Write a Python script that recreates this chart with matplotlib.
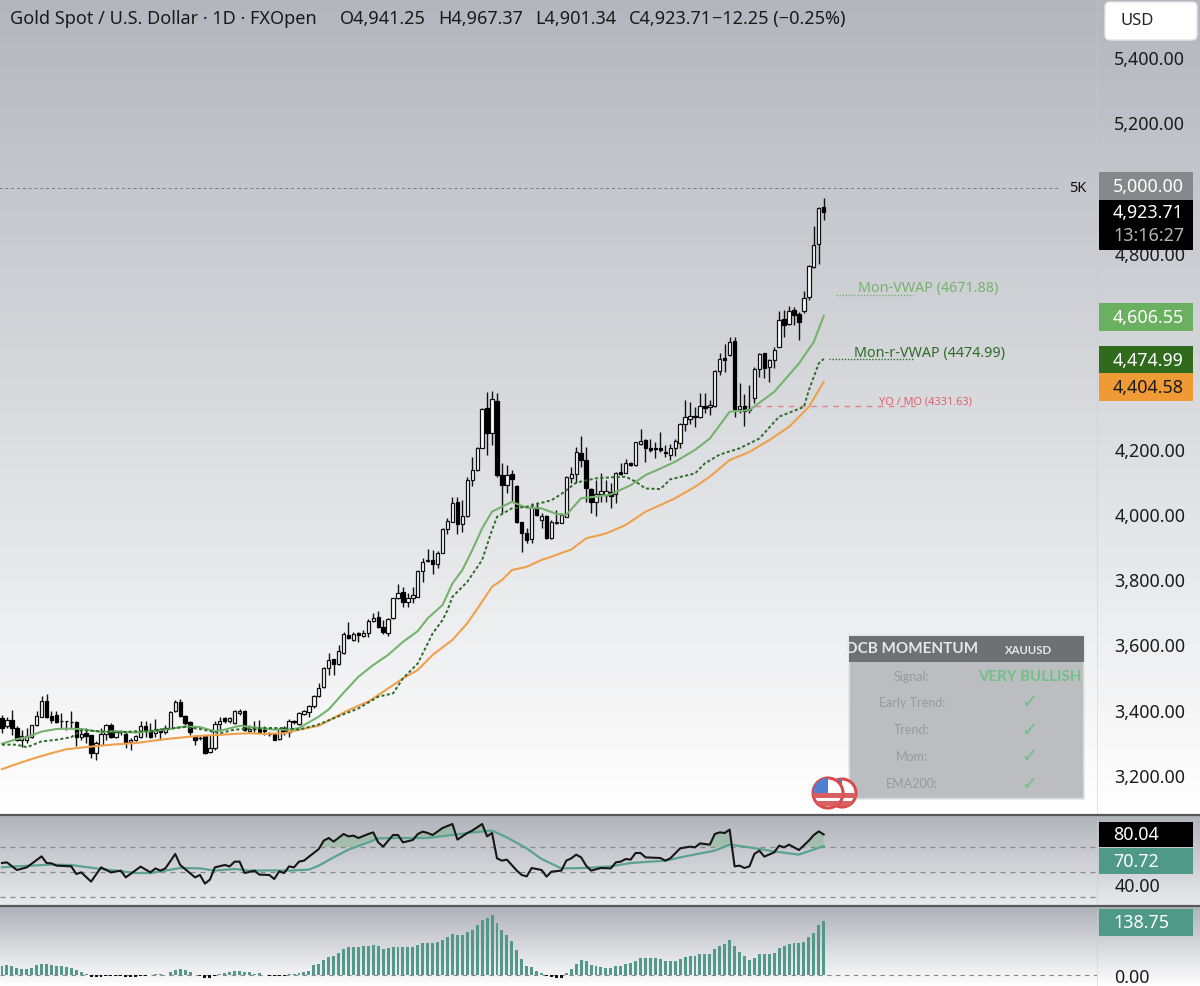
import numpy as np
import matplotlib
matplotlib.use("Agg")
from matplotlib import pyplot as plt
from matplotlib.patches import Rectangle, Circle, FancyBboxPatch

plt.rcParams['font.family'] = ['Noto Sans', 'DejaVu Sans']

# daily candles
opens = [3374,3349,3369,3344,3308,3308,3316,3352,3379,3428,
         3381,3385,3365,3366,3363,3362,3316,3328,3322,3267,
         3293,3326,3352,3318,3332,3326,3301,3308,3318,3351,
         3337,3330,3342,3331,3344,3395,3425,3381,3361,3315,
         3312,3320,3270,3282,3357,3374,3364,3359,3390,3395,
         3336,3342,3344,3339,3330,3326,3310,3344,3333,3366,
         3356,3388,3392,3410,3443,3471,3527,3554,3540,3573,
         3629,3614,3634,3626,3634,3673,3683,3652,3634,3680,
         3741,3760,3729,3741,3746,3826,3855,3859,3846,3881,
         3954,3976,4035,3969,3993,4104,4134,4203,4325,4247,
         4347,4119,4090,4121,4085,3976,3943,3922,4022,3981,
         3993,3925,3971,3973,3991,4109,4121,4188,4165,4076,
         4037,4061,4058,4068,4061,4127,4126,4157,4150,4214,
         4226,4201,4201,4201,4191,4180,4201,4216,4275,4292,
         4300,4296,4332,4328,4331,4439,4479,4487,4529,4323,
         4330,4318,4354,4443,4492,4451,4473,4512,4597,4581,
         4624,4612,4622,4665,4757,4826,4941.25]
closes = [3344,3369,3344,3306,3320,3320,3352,3381,3428,3377,
          3369,3361,3367,3365,3361,3316,3326,3320,3267,3298,
          3326,3352,3318,3331,3334,3298,3308,3320,3351,3337,
          3316,3342,3331,3344,3393,3425,3381,3359,3331,3308,
          3314,3267,3282,3357,3366,3364,3374,3395,3397,3337,
          3342,3340,3331,3336,3326,3308,3342,3333,3366,3363,
          3390,3395,3412,3443,3466,3527,3552,3540,3581,3632,
          3619,3632,3628,3634,3673,3682,3652,3637,3679,3741,
          3757,3729,3741,3751,3826,3852,3859,3848,3879,3954,
          3978,4032,3969,3994,4104,4136,4201,4320,4247,4351,
          4119,4088,4119,4106,3976,3943,3920,4022,3996,3994,
          3925,3976,3976,3996,4112,4121,4191,4165,4078,4037,
          4061,4071,4071,4056,4124,4122,4157,4150,4219,4224,
          4201,4196,4198,4196,4186,4201,4224,4275,4296,4300,
          4296,4330,4324,4334,4439,4476,4471,4527,4323,4330,
          4316,4323,4444,4489,4446,4471,4502,4594,4579,4621,
          4609,4589,4663,4759,4824,4936,4923.71]
highs = [3385,3379,3398,3349,3339,3344,3354,3395,3443,3447,
         3395,3395,3390,3367,3395,3364,3344,3344,3323,3303,
         3344,3357,3359,3339,3339,3333,3313,3323,3364,3367,
         3359,3371,3344,3354,3397,3430,3433,3385,3364,3323,
         3320,3323,3323,3364,3379,3379,3379,3400,3402,3400,
         3354,3366,3369,3349,3333,3330,3344,3349,3371,3369,
         3392,3398,3415,3446,3481,3532,3573,3554,3598,3639,
         3670,3639,3639,3644,3677,3695,3703,3675,3681,3743,
         3785,3775,3757,3775,3828,3864,3891,3889,3887,3956,
         3986,4053,4053,4044,4112,4173,4206,4326,4374,4377,
         4369,4155,4150,4134,4088,3976,3956,4032,4037,4002,
         3996,3981,4012,4004,4115,4145,4206,4239,4206,4078,
         4104,4124,4104,4094,4129,4155,4167,4160,4221,4260,
         4231,4231,4221,4252,4211,4214,4231,4280,4349,4344,
         4328,4369,4369,4349,4441,4492,4520,4543,4543,4400,
         4367,4395,4451,4492,4494,4476,4512,4622,4624,4637,
         4635,4619,4683,4762,4882,4940,4967.37]
lows = [3328,3344,3323,3303,3285,3298,3313,3349,3377,3374,
        3359,3359,3344,3339,3344,3290,3308,3298,3252,3245,
        3291,3308,3313,3313,3323,3282,3277,3303,3313,3316,
        3313,3318,3306,3326,3342,3392,3379,3354,3323,3293,
        3308,3264,3267,3277,3334,3359,3359,3357,3385,3334,
        3330,3333,3328,3323,3320,3306,3308,3323,3318,3357,
        3354,3385,3379,3405,3439,3468,3506,3506,3537,3571,
        3616,3611,3609,3624,3622,3670,3649,3632,3626,3678,
        3738,3714,3716,3728,3744,3792,3854,3815,3833,3879,
        3938,3974,3940,3945,3991,4085,4132,4201,4180,4211,
        4114,4002,4063,4037,3971,3884,3910,3910,3993,3956,
        3922,3922,3969,3971,3990,4094,4094,4145,4037,4002,
        3993,4037,4037,4017,4034,4119,4124,4147,4148,4211,
        4160,4191,4170,4191,4175,4165,4178,4201,4255,4277,
        4267,4293,4308,4303,4328,4425,4436,4485,4298,4310,
        4269,4308,4339,4420,4415,4405,4446,4510,4543,4579,
        4578,4533,4616,4655,4755,4765,4901.34]

# overlays, (bar number, price)
ema_idx = [0,3,6,10,13,16,20,23,27,30,33,37,40,43,47,50,53,57,60,64,
           70,74,77,81,84,87,91,94,97,99,101,103,106,109,111,115,
           118,122,126,130,133,136,140,143,147,151,155,159,163,166]
ema_val = [3218,3234,3249,3267,3279,3284,3290,3294,3298,3304,3310,3316,3320,3322,3326,3328,3326,3328,3339,3351,
           3399,3425,3455,3496,3522,3568,3614,3665,3731,3777,3797,3828,3838,3859,3869,3891,
           3925,3940,3966,4007,4027,4048,4083,4114,4165,4190,4226,4267,4328,4404.58]
vwap_idx = [0,3,5,8,11,13,16,20,23,27,30,33,37,40,43,45,48,52,55,58,60,64,
            66,69,72,75,78,81,84,86,89,91,93,95,97,99,101,103,106,109,112,114,
            117,120,123,127,130,133,136,140,143,147,151,156,161,164,166]
vwap_val = [3296,3310,3316,3333,3341,3342,3341,3332,3334,3330,3334,3339,3349,3347,3334,3339,3351,3344,3339,3339,3344,3379,
            3401,3452,3501,3537,3568,3608,3641,3680,3721,3787,3828,3889,3956,4007,4022,4037,4019,4017,4000,3997,
            4048,4053,4060,4088,4119,4139,4160,4196,4231,4313,4318,4374,4461,4527,4606.55]
rvwap_idx = [0,3,5,8,11,14,16,20,23,27,30,33,37,40,44,47,50,54,57,60,64,68,72,76,
             79,81,84,86,87,89,90,91,94,97,99,100,103,106,111,113,
             116,120,123,126,128,130,133,135,140,142,145,149,153,157,162,163,165,166]
rvwap_val = [3293,3293,3285,3303,3308,3316,3337,3334,3330,3334,3334,3341,3347,3341,3328,3339,3342,3344,3344,3339,3355,3380,3404,3440,
             3450,3496,3542,3603,3634,3675,3705,3746,3792,3859,3951,3991,4017,4022,4042,4061,
             4096,4109,4112,4114,4099,4078,4076,4106,4124,4155,4182,4201,4231,4298,4328,4379,4461,4474.99]

# RSI pane
rsi_idx = [0,1,3,5,8,9,10,11,14,15,16,18,20,22,24,25,28,30,31,32,33,35,36,39,40,41,42,43,45,46,47,48,49,51,52,54,55,56,57,58,59,60,61,64,65,66,67,69,70,71,72,74,75,76,77,79,80,81,83,84,85,
           86,87,89,91,92,94,95,97,98,99,100,101,102,104,105,106,107,109,110,111,113,114,115,116,117,118,119,121,123,124,125,126,127,128,129,130,133,134,135,137,139,140,141,143,144,145,146,147,148,149,150,151,152,153,154,156,157,158,159,161,163,164,165,166]
rsi_val = [57.2,57.7,51.6,53.7,62.5,57.2,56.9,55.1,54.5,48.4,49.7,42.3,53.7,49.7,51.1,45.7,54.3,49.7,52.9,51.1,52.9,64.4,55.6,45.7,47.6,40.7,43.9,53.7,55.6,54.5,58.3,58.3,49.2,51.1,47.9,47.6,44.4,50.5,49.2,54.5,53.7,58.3,59.1,68.4,75.1,77.2,74.3,80.4,78.5,79.1,77.2,80.4,81.7,73.7,70.3,79.6,79.6,73.7,75.6,80.4,82.3,
           81.2,79.6,85.2,88.4,75.9,81.2,83.1,88.4,78.5,81.2,60.9,59.1,59.9,51.1,47.6,46.5,53.2,51.6,46.3,50.3,51.1,59.1,60.9,63.9,61.7,55.1,51.1,53.2,52.9,57.7,58.3,60.4,59.9,65.2,65.2,61.7,61.2,59.1,60.9,68.9,70.3,69.7,72.9,71.9,80.4,81.7,81.2,83.9,54.5,55.1,53.2,54.5,64.4,67.1,62.3,65.7,71.1,69.7,71.9,67.6,75.1,79.6,82.5,80.04]
rsi_ma_idx = [0,3,10,14,16,20,23,27,30,33,36,40,43,47,50,55,58,62,64,67,70,74,76,80,86,90,94,99,102,106,109,113,118,123,127,134,138,144,147,151,156,161,166]
rsi_ma_val = [53.7,54.5,55.9,55.6,54.5,52.4,51.1,49.2,49.2,51.1,53.2,52.9,51.1,52.4,51.1,51.3,51.1,51.9,55.1,61.7,67.9,73.7,76.9,77.2,77.2,79.1,81.2,83.1,77.7,68.9,60.4,52.9,53.2,54.5,57.2,59.1,62.5,67.1,71.9,69.7,66.5,63.9,70.72]

# histogram pane, one value per bar
hist_val = [23,25,23,18,15,15,16,25,27,27,26,23,22,19,18,11,6,2,
            -5,-5,-7,-4,-3,-3,-3,-5,-5,-5,-3,-3,-1,1,1,-1,6,13,15,12,8,-1,-3,-9,-9,-3,1,4,6,10,10,6,8,2,4,-1,-3,-3,-3,-3,1,1,4,6,10,25,28,
            39,45,49,56,66,71,72,72,73,75,77,73,66,69,72,72,72,71,71,77,81,82,
            82,84,90,96,105,102,102,109,115,127,142,146,154,133,115,102,87,65,40,22,19,10,4,-3,-5,-8,-9,4,15,28,39,35,25,22,21,18,16,22,23,28,29,36,
            43,43,43,43,40,36,35,35,40,45,49,49,54,54,54,66,75,79,90,73,59,47,39,42,53,53,53,56,68,73,80,82,81,84,96,108,127,138.75]

# 5,000 / 4,600 / 4,400 sit behind the price tags, so only the visible ones
price_ticks = [3200,3400,3600,3800,4000,4200,4800,5200,5400]
header_parts = ["Gold Spot / U.S. Dollar · 1D · FXOpen", "O4,941.25", "H4,967.37", "L4,901.34", "C4,923.71", "−12.25 (−0.25%)"]
header_x = [10, 340, 438, 535, 629, 712]
W, H = 1200, 987
PX_PER_BAR = 4.95
RIGHT = 1097


def pane(top, bottom):
    # axes given in picture pixels, same bar spacing in each pane
    a = fig.add_axes([0, 1 - bottom / H, RIGHT / W, (bottom - top) / H], zorder=2)
    a.patch.set_alpha(0)
    a.set_xlim(-2 / PX_PER_BAR, (RIGHT - 2) / PX_PER_BAR)
    a.set_xticks([])
    for s in a.spines.values():
        s.set_visible(False)
    a.yaxis.tick_right()
    a.tick_params(axis="y", length=0, pad=12.5, labelsize=12.9, labelcolor="#1c1c1e")
    a.yaxis.set_major_formatter(lambda v, p: f"{v:,.2f}")
    return a


def gradient(top, bottom, c0, c1):
    c0, c1 = np.array(c0) / 255, np.array(c1) / 255
    t = np.linspace(0, 1, 256)[:, None, None]
    img = (1 - t) * c0 + t * c1
    bg.imshow(img, extent=(0, W, bottom, top), aspect="auto", zorder=0)


fig = plt.figure(figsize=(W / 100, H / 100), dpi=100)

# backgrounds of the three panes
bg = fig.add_axes([0, 0, 1, 1], zorder=0)
gradient(0, 815, (179, 182, 189), (255, 255, 255))
gradient(815, 906, (176, 179, 186), (232, 233, 235))
gradient(906, 987, (172, 176, 183), (255, 255, 255))
bg.set_xlim(0, W)
bg.set_ylim(H, 0)
bg.axis("off")
bg.plot([RIGHT, RIGHT], [0, H], color="#c9cacd", lw=0.6, alpha=0.6)
bg.plot([0, W], [815.5, 815.5], color="#55575b", lw=1.6)
bg.plot([0, W], [906.5, 906.5], color="#55575b", lw=1.6)

# price pane
ax = pane(0, 814)
ax.set_ylim(5400 + (58 - 814) * 3.064, 5400 + 58 * 3.064)
ax.set_yticks(price_ticks)

x = np.arange(len(closes))
o, c = np.array(opens), np.array(closes)
ax.vlines(x, lows, highs, color="#111111", lw=1.0, zorder=2)
up = c >= o
ax.bar(x[up], (c - o)[up], bottom=o[up], width=0.68, facecolor="white", edgecolor="#111111", lw=0.9, zorder=3)
ax.bar(x[~up], (c - o)[~up], bottom=o[~up], width=0.68, facecolor="black", edgecolor="black", lw=0.9, zorder=3)

ax.plot(ema_idx, ema_val, color="#f0a04b", lw=1.5, zorder=4)
ax.plot(vwap_idx, vwap_val, color="#76b26e", lw=1.5, zorder=4)
ax.plot(rvwap_idx, rvwap_val, color="#2f6b2a", lw=1.4, ls=(0, (1.6, 1.2)), zorder=4)

# level lines and their labels
ax.hlines(5000, -1, 213.5, color="#77797d", lw=0.7, ls=(0, (3, 3)), zorder=1)
ax.hlines(4671.88, 168.5, 184, color="#76b26e", lw=1.0, ls=(0, (1, 1.2)), zorder=1)
ax.hlines(4474.99, 167, 184, color="#2f6b2a", lw=1.0, ls=(0, (1, 1.2)), zorder=1)
ax.hlines(4331.63, 150, 184.5, color="#e2808a", lw=1.0, ls=(0, (4, 4)), zorder=1)
ax.text(996 / PX_PER_BAR, 4671.88 + 22, "Mon-VWAP (4671.88)", color="#76b26e", fontsize=10.3, ha="right", va="center")
ax.text(1003 / PX_PER_BAR, 4474.99 + 20, "Mon-r-VWAP (4474.99)", color="#2f6b2a", fontsize=10.3, ha="right", va="center")
ax.text(970 / PX_PER_BAR, 4331.63 + 14, "YO / MO (4331.63)", color="#e0606c", fontsize=7.9, ha="right", va="center")
ax.text(1084 / PX_PER_BAR, 5000, "5K", color="#111111", fontsize=10.5, ha="right", va="center")

# RSI pane
rs = pane(816, 906)
rs.set_ylim(40 + (885.5 - 906) / 1.25, 40 + (885.5 - 816) / 1.25)
rs.set_yticks([40])
for lvl in [70, 50, 30]:
    rs.axhline(lvl, color="#85878b", lw=0.9, ls=(0, (4, 4)), zorder=1)
xx = np.arange(0, len(closes) - 1 + 0.01, 0.25)
line = np.interp(xx, rsi_idx, rsi_val)
ma = np.interp(xx, rsi_ma_idx, rsi_ma_val)
rs.fill_between(xx, np.maximum(ma, 70), line, where=(line > np.maximum(ma, 70)), color="#6fb37a", alpha=0.35, lw=0, zorder=1)
rs.plot(rsi_ma_idx, rsi_ma_val, color="#5ba391", lw=1.6, zorder=2)
rs.plot(rsi_idx, rsi_val, color="#161616", lw=1.5, zorder=3)

# histogram pane
hs = pane(907, 987)
hs.set_ylim((975.7 - 987) * 2.58, (975.7 - 907) * 2.58)
hs.set_yticks([0])
hv = np.array(hist_val)
hs.axhline(0, color="#85878b", lw=0.8, ls=(0, (4, 4)), zorder=1)
hs.bar(x, hv, width=0.6, color=np.where(hv >= 0, "#54988a", "#111111"), zorder=2)

# everything that floats above the chart, in picture pixels
top = fig.add_axes([0, 0, 1, 1], zorder=5)
top.patch.set_alpha(0)
top.set_xlim(0, W)
top.set_ylim(H, 0)
top.axis("off")

for part, px in zip(header_parts, header_x):
    top.text(px, 19, part, fontsize=13, color="#1a1a1c", va="center", ha="left")


def tag(y0, y1, face, label, color="white"):
    top.add_patch(Rectangle((1099, y0), 94, y1 - y0, facecolor=face, edgecolor="none"))
    top.text(1113, (y0 + y1) / 2, label, color=color, fontsize=12.9, va="center", ha="left")


top.add_patch(FancyBboxPatch((1105, 3), 92, 38, boxstyle="round,pad=0,rounding_size=5",
                             facecolor="white", edgecolor="#e4e5e8", lw=1))
top.text(1120, 21, "USD", fontsize=12, color="#222222", va="center", ha="left")

tag(173, 201, "#87888b", "5,000.00")
top.add_patch(Rectangle((1099, 201), 94, 50, facecolor="black", edgecolor="none"))
top.text(1113, 213, "4,923.71", color="white", fontsize=12.9, va="center", ha="left")
top.text(1113, 236, "13:16:27", color="#b5b5b5", fontsize=12.9, va="center", ha="left")
tag(304, 332, "#6bb060", "4,606.55")
tag(347, 374, "#2f6a1d", "4,474.99")
tag(374, 402, "#ef9a35", "4,404.58", color="#1a1a1a")
tag(823, 848, "black", "80.04")
tag(849, 875, "#4f9a87", "70.72")
tag(910, 937, "#4f9a87", "138.75")

# momentum table
panel_font = ["Lato", "DejaVu Sans"]
top.add_patch(Rectangle((849, 637), 235, 163, facecolor="#bcbdc1", edgecolor="#e2e3e5", lw=1.2))
top.add_patch(Rectangle((849, 637), 235, 26, facecolor="#6f7073", edgecolor="none"))
top.text(912, 649, "DCB MOMENTUM", color="#e8e8e8", fontsize=11, fontweight="bold", ha="center", va="center", family=panel_font)
top.text(1029, 650, "XAUUSD", color="#e8e8e8", fontsize=8.2, fontweight="bold", ha="center", va="center", family=panel_font)
rows = ["Signal:", "Early Trend:", "Trend:", "Mom:", "EMA200:"]
rows_y = [677, 703, 730, 757, 784]
for name, ry in zip(rows, rows_y):
    top.text(912, ry, name, color="#98999d", fontsize=9, ha="center", va="center", family=panel_font)
    if name == "Signal:":
        top.text(1030, ry, "VERY BULLISH", color="#70bf88", fontsize=10.8, fontweight="bold", ha="center", va="center", family=panel_font)
    else:
        top.text(1029, ry, "✓", color="#70bf88", fontsize=14, ha="center", va="center", family="DejaVu Sans")

# flag badges
for cx, cy, r in [(842, 794, 14), (828, 794, 15)]:
    disc = Circle((cx, cy), r, facecolor="white", edgecolor="#d94b4b", lw=2.2)
    top.add_patch(disc)
    for sy in [cy + 2, cy + 10]:
        st = Rectangle((cx - r, sy - 2.5), 2 * r, 5, facecolor="#d96060", edgecolor="none")
        top.add_patch(st)
        st.set_clip_path(disc)
    can = Rectangle((cx - r, cy - r), r, r, facecolor="#4f7fd0", edgecolor="none")
    top.add_patch(can)
    can.set_clip_path(disc)

fig.savefig("out.png", dpi=100)
